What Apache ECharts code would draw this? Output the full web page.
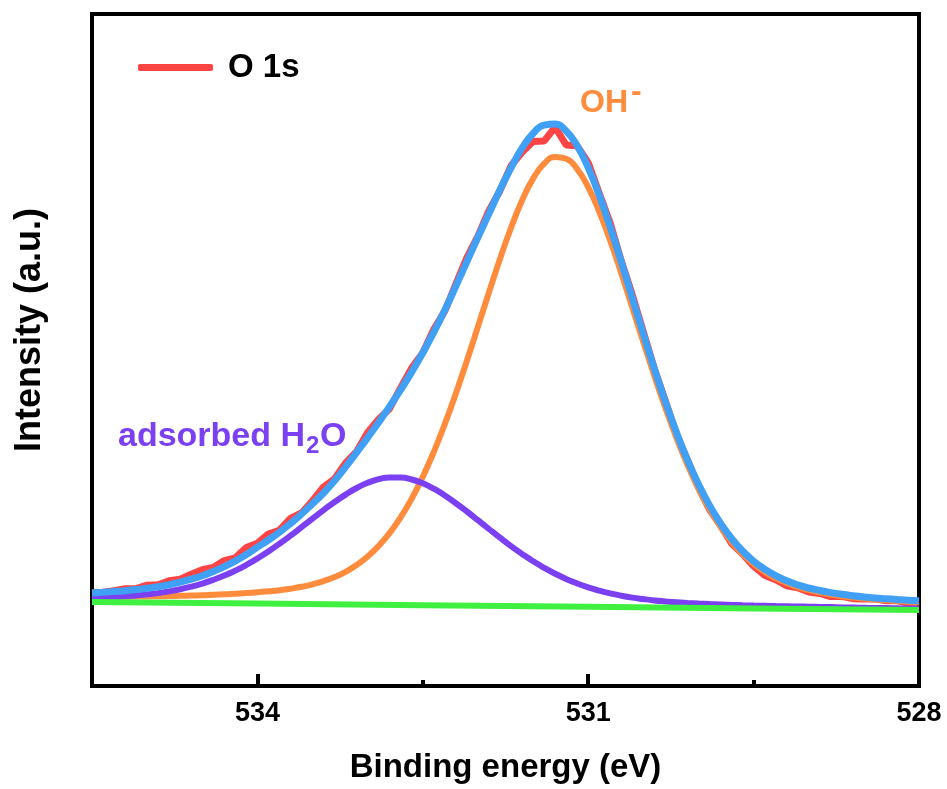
<!DOCTYPE html>
<html>
<head>
<meta charset="utf-8">
<script src="https://cdn.jsdelivr.net/npm/echarts@6/dist/echarts.min.js"></script>
<style>
html,body{margin:0;padding:0;background:#fff;}
#chart{width:947px;height:789px;}
</style>
</head>
<body>
<div id="chart"></div>
<script>
// Binding energy grid (eV)
const energy = [528.0,528.1,528.2,528.3,528.4,528.5,528.6,528.7,528.8,528.9,
  529.0,529.1,529.2,529.3,529.4,529.5,529.6,529.7,529.8,529.9,
  530.0,530.1,530.2,530.3,530.4,530.5,530.6,530.7,530.8,530.9,
  531.0,531.1,531.2,531.3,531.4,531.5,531.6,531.7,531.8,531.9,
  532.0,532.1,532.2,532.3,532.4,532.5,532.6,532.7,532.8,532.9,
  533.0,533.1,533.2,533.3,533.4,533.5,533.6,533.7,533.8,533.9,
  534.0,534.1,534.2,534.3,534.4,534.5,534.6,534.7,534.8,534.9,
  535.0,535.1,535.2,535.3,535.4,535.5];

// O 1s measured spectrum (a.u.)
const o1sRaw = [84.2,82.7,85.5,85.3,87.1,87.1,87.3,89.7,89.4,92.5,
  94.0,98.2,100.2,106.3,110.8,119.9,132.0,142.5,160.7,176.6,
  198.7,226.1,251.7,285.2,317.2,354.2,391.1,425.1,462.8,492.7,
  523.4,540.2,541.0,558.9,544.9,544.5,533.8,520.2,495.3,475.4,
  449.8,428.4,401.9,375.0,356.8,333.2,318.1,298.3,277.6,266.7,
  253.4,234.6,223.1,207.3,199.0,185.2,173.0,167.5,155.8,152.0,
  142.8,138.5,128.1,125.4,118.6,116.3,111.8,106.8,105.3,101.3,
  100.8,97.4,97.3,95.4,93.7,93.1];

// Fitted envelope
const envelope = [85.2,85.7,86.5,87.3,88.1,89.1,90.3,91.7,93.4,95.5,
  98.0,101.2,105.2,110.3,116.8,124.9,135.0,147.5,162.7,180.6,
  201.7,226.1,253.7,284.2,317.2,352.2,388.1,424.1,458.8,490.7,
  518.4,540.2,555.0,561.9,560.9,552.5,537.8,518.2,496.3,472.4,
  448.8,424.4,399.9,376.0,353.8,333.2,314.1,296.3,279.6,263.7,
  248.4,233.6,219.1,205.3,193.0,182.2,172.0,162.5,153.8,146.0,
  138.8,131.5,125.1,119.4,114.6,110.3,106.8,103.8,101.3,99.3,
  97.8,96.4,95.3,94.4,93.7,93.1];

// OH- component
const ohPeak = [83.8,84.3,85.0,85.7,86.5,87.4,88.5,89.8,91.4,93.4,
  95.8,98.9,102.8,107.8,114.1,122.1,132.0,144.2,159.1,176.7,
  197.4,221.3,248.3,278.1,310.2,344.0,378.5,412.7,445.2,474.4,
  498.9,516.9,527.3,529.1,522.3,507.4,485.5,458.2,427.1,393.6,
  359.3,325.3,292.6,262.1,234.2,209.3,187.5,168.8,153.1,140.1,
  129.5,121.0,114.2,109.0,104.9,101.7,99.2,97.3,95.8,94.7,
  93.7,92.9,92.3,91.7,91.3,90.8,90.5,90.2,89.9,89.7,
  89.6,89.4,89.2,89.0,88.9,88.8];

// adsorbed H2O component
const h2oPeak = [77.4,77.5,77.7,77.9,78.0,78.2,78.4,78.6,78.9,79.1,
  79.3,79.5,79.7,79.9,80.2,80.4,80.7,81.1,81.5,81.9,
  82.4,83.0,83.7,84.6,85.6,86.9,88.4,90.3,92.6,95.4,
  98.7,102.6,107.1,112.3,118.2,124.8,132.1,139.9,148.3,157.0,
  165.8,174.5,182.8,190.5,197.3,202.7,206.5,208.5,208.6,206.8,
  203.2,198.0,191.4,184.0,175.9,167.4,158.8,150.3,142.2,134.6,
  127.5,121.1,115.4,110.4,106.1,102.4,99.3,96.7,94.6,92.9,
  91.7,90.6,89.8,89.2,88.7,88.3];

// Background
const bgEnergy = [528.0,529.5,531.0,532.5,534.0,535.5];
const background = [76.0,77.6,79.2,80.8,82.4,84.0];

const xTickLabels = [528,531,534];

function pairs(xs, ys){ return xs.map((x,i)=>[x, ys[i]]); }

const FONT = 'Liberation Sans, Arial, sans-serif';
const C_RED='#FF4444', C_ORANGE='#FF8C3C', C_PURPLE='#7A40F2', C_GREEN='#40F040', C_BLUE='#3FA0F5';

const chart = echarts.init(document.getElementById('chart'), null, {renderer:'canvas'});
chart.setOption({
  animation:false,
  backgroundColor:'#fff',
  grid:{left:92,right:28,top:14,bottom:103,show:true,borderColor:'#000',borderWidth:4,backgroundColor:'transparent'},
  legend:{
    left:138, top:51, padding:0,
    icon:'roundRect', itemWidth:75, itemHeight:7,
    data:['O 1s'],
    textStyle:{fontSize:33,fontWeight:'bold',color:'#000',fontFamily:FONT,padding:[0,0,0,10]}
  },
  xAxis:{
    type:'value', min:528, max:535.5, interval:3, inverse:true,
    axisLine:{show:true,lineStyle:{color:'#000',width:4}},
    axisTick:{show:true,inside:true,length:12,lineStyle:{color:'#000',width:4}},
    minorTick:{show:true,splitNumber:2,length:6,lineStyle:{color:'#000',width:4}},
    splitLine:{show:false}, minorSplitLine:{show:false},
    axisLabel:{fontSize:27,fontWeight:'bold',color:'#000',fontFamily:FONT,margin:14,
      formatter:function(v){ return xTickLabels.indexOf(v)>=0 ? String(v) : ''; }},
    name:'Binding energy (eV)', nameLocation:'middle', nameGap:65,
    nameTextStyle:{fontSize:33,fontWeight:'bold',color:'#000',fontFamily:FONT}
  },
  yAxis:{
    type:'value', min:0, max:672,
    axisLine:{show:true,lineStyle:{color:'#000',width:4}},
    axisTick:{show:false}, axisLabel:{show:false}, splitLine:{show:false},
    name:'Intensity (a.u.)', nameLocation:'middle', nameGap:44,
    nameTextStyle:{fontSize:36,fontWeight:'bold',color:'#000',fontFamily:FONT,padding:[0,0,0,40]}
  },
  graphic:[
    {type:'text', x:580, y:103.5, style:{text:'OH', fill:C_ORANGE, font:'bold 32px '+FONT, textAlign:'left', textVerticalAlign:'middle'}},
    {type:'text', x:631, y:92, style:{text:'-', fill:C_ORANGE, font:'bold 32px '+FONT, textAlign:'left', textVerticalAlign:'middle'}},
    {type:'text', x:118, y:436.5, style:{text:'adsorbed H', fill:C_PURPLE, font:'bold 34px '+FONT, textAlign:'left', textVerticalAlign:'middle'}},
    {type:'text', x:306, y:446, style:{text:'2', fill:C_PURPLE, font:'bold 24px '+FONT, textAlign:'left', textVerticalAlign:'middle'}},
    {type:'text', x:320, y:436.5, style:{text:'O', fill:C_PURPLE, font:'bold 34px '+FONT, textAlign:'left', textVerticalAlign:'middle'}}
  ],
  series:[
    {name:'O 1s', type:'line', data:pairs(energy,o1sRaw), symbol:'none', showSymbol:false,
      lineStyle:{color:C_RED,width:7}, itemStyle:{color:C_RED}, z:1},
    {name:'OH-', type:'line', data:pairs(energy,ohPeak), symbol:'none', smooth:true,
      lineStyle:{color:C_ORANGE,width:6}, itemStyle:{color:C_ORANGE}, z:2},
    {name:'adsorbed H2O', type:'line', data:pairs(energy,h2oPeak), symbol:'none', smooth:true,
      lineStyle:{color:C_PURPLE,width:6}, itemStyle:{color:C_PURPLE}, z:3},
    {name:'Background', type:'line', data:pairs(bgEnergy,background), symbol:'none',
      lineStyle:{color:C_GREEN,width:6}, itemStyle:{color:C_GREEN}, z:4},
    {name:'Envelope', type:'line', data:pairs(energy,envelope), symbol:'none', smooth:true,
      lineStyle:{color:C_BLUE,width:7}, itemStyle:{color:C_BLUE}, z:5}
  ]
});
</script>
</body>
</html>
